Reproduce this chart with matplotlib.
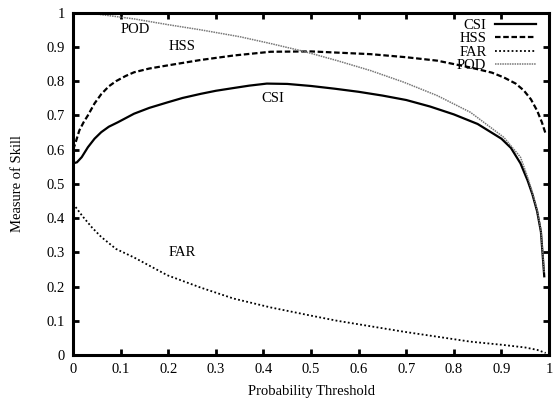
import matplotlib
matplotlib.use("Agg")
import matplotlib.pyplot as plt

plt.rcParams['font.family'] = ['Liberation Serif', 'DejaVu Serif']

csi_x = [0.0, 0.008, 0.018, 0.031, 0.045, 0.059, 0.075, 0.094, 0.128, 0.16, 0.198, 0.23, 0.268, 0.3,
         0.337, 0.37, 0.407, 0.45, 0.5, 0.55, 0.6, 0.65, 0.7, 0.75, 0.8, 0.85, 0.9, 0.92, 0.94,
         0.955, 0.965, 0.975, 0.983, 0.99]
csi_y = [0.56, 0.563, 0.578, 0.607, 0.632, 0.651, 0.667, 0.68, 0.705, 0.722, 0.738, 0.751, 0.763, 0.772,
         0.78, 0.787, 0.793, 0.792, 0.786, 0.778, 0.769, 0.758, 0.745, 0.726, 0.703, 0.675, 0.632, 0.605,
         0.56, 0.51, 0.47, 0.42, 0.36, 0.23]

hss_x = [0.0, 0.005, 0.013, 0.022, 0.031, 0.045, 0.059, 0.075, 0.09, 0.11, 0.128, 0.16, 0.198, 0.268,
         0.337, 0.415, 0.5, 0.625, 0.7, 0.765, 0.835, 0.88, 0.905, 0.93, 0.947, 0.962, 0.975, 0.985,
         0.993]
hss_y = [0.60, 0.62, 0.656, 0.68, 0.70, 0.735, 0.762, 0.785, 0.80, 0.815, 0.826, 0.837, 0.846, 0.862,
         0.875, 0.886, 0.887, 0.879, 0.87, 0.86, 0.84, 0.825, 0.811, 0.793, 0.773, 0.747, 0.714, 0.68,
         0.646]

far_x = [0.0, 0.02, 0.04, 0.059, 0.09, 0.128, 0.198, 0.268, 0.337, 0.415, 0.5, 0.555, 0.695,
         0.835, 0.9, 0.95, 0.975, 0.993]
far_y = [0.442, 0.405, 0.372, 0.345, 0.31, 0.285, 0.233, 0.197, 0.165, 0.139, 0.115, 0.10, 0.068,
         0.039, 0.03, 0.022, 0.015, 0.006]

pod_x = [0.0, 0.04, 0.128, 0.2, 0.268, 0.35, 0.415, 0.485, 0.555, 0.625, 0.695, 0.765, 0.835,
         0.905, 0.94, 0.955, 0.965, 0.975, 0.983, 0.99]
pod_y = [1.0, 0.998, 0.982, 0.965, 0.95, 0.93, 0.91, 0.887, 0.86, 0.831, 0.797, 0.758, 0.709,
         0.636, 0.578, 0.52, 0.475, 0.425, 0.365, 0.24]

x_ticks = [0, 0.1, 0.2, 0.3, 0.4, 0.5, 0.6, 0.7, 0.8, 0.9, 1]
y_ticks = [0, 0.1, 0.2, 0.3, 0.4, 0.5, 0.6, 0.7, 0.8, 0.9, 1]

fig = plt.figure(figsize=(5.54, 3.98), dpi=100)
ax = fig.add_axes([0.132, 0.108, 0.859, 0.860])

ax.plot(csi_x, csi_y, color='black', lw=1.6, ls='-', label='CSI')
ax.plot(hss_x, hss_y, color='black', lw=1.6, ls=(0, (2.5, 1.2)), label='HSS')
ax.plot(far_x, far_y, color='black', lw=1.3, ls=(0, (1, 1.3)), label='FAR')
ax.plot(pod_x, pod_y, color='#777777', lw=1.1, ls=(0, (1, 0.6)), label='POD')

ax.set_xlim(0, 1)
ax.set_ylim(0, 1)
ax.set_xticks(x_ticks)
ax.set_yticks(y_ticks)
ax.set_xticklabels([f'{v:g}' for v in x_ticks])
ax.set_yticklabels([f'{v:g}' for v in y_ticks])
ax.tick_params(direction='in', length=4, width=2, top=True, right=True,
               labeltop=False, labelright=False, labelsize=10.5, pad=6)
for s in ax.spines.values():
    s.set_linewidth(2.2)

ax.set_xlabel('Probability Threshold', fontsize=10.5, labelpad=6)
ax.set_ylabel('Measure of Skill', fontsize=10.5, labelpad=16)

ax.text(0.13, 0.95, 'POD', fontsize=10.5, ha='center', va='center')
ax.text(0.228, 0.90, 'HSS', fontsize=10.5, ha='center', va='center')
ax.text(0.42, 0.75, 'CSI', fontsize=10.5, ha='center', va='center')
ax.text(0.23, 0.30, 'FAR', fontsize=10.5, ha='center', va='center')

ax.legend(loc='upper right', frameon=False, markerfirst=False, fontsize=10.5,
          handlelength=2.8, handletextpad=0.6, labelspacing=0.02,
          borderaxespad=0.0, bbox_to_anchor=(0.985, 1.0))

fig.savefig('out.png', dpi=100)
